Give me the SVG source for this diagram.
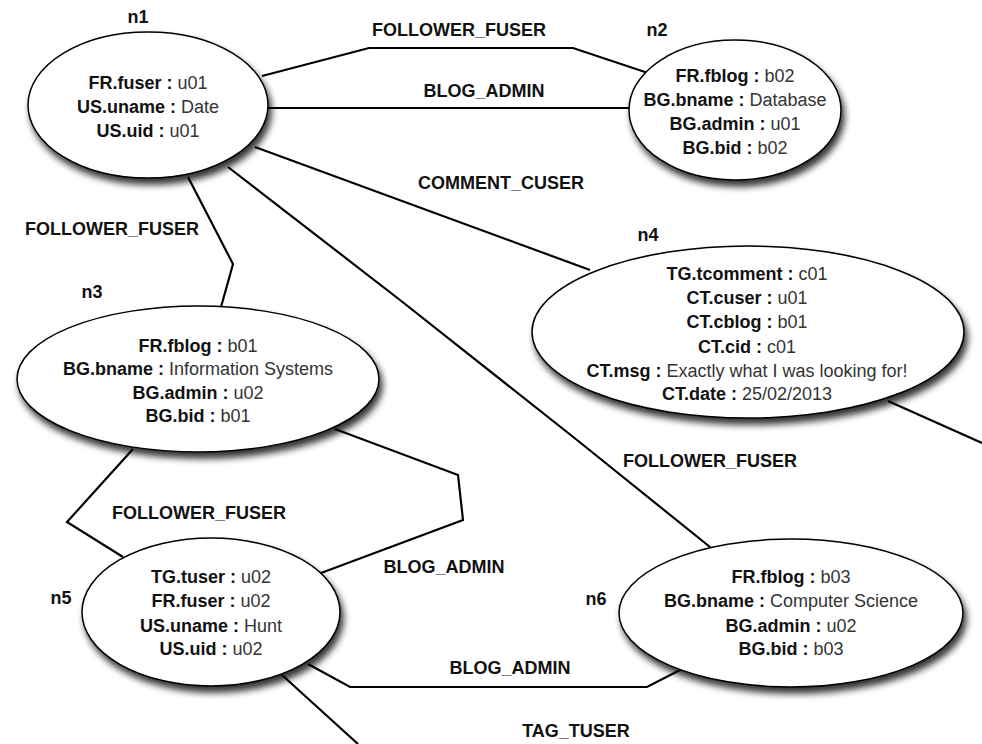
<svg xmlns="http://www.w3.org/2000/svg" width="982" height="744" viewBox="0 0 982 744">
<defs>
<filter id="sh" x="-20%" y="-20%" width="140%" height="150%">
<feGaussianBlur in="SourceAlpha" stdDeviation="3.5"/>
<feOffset dx="3" dy="6" result="b"/>
<feComponentTransfer><feFuncA type="linear" slope="0.8"/></feComponentTransfer>
<feMerge><feMergeNode/><feMergeNode in="SourceGraphic"/></feMerge>
</filter>
<style>
.n{fill:#fff;stroke:#000;stroke-width:1.5;filter:url(#sh)}
.e{fill:none;stroke:#000;stroke-width:2.2;stroke-linejoin:miter}
text{font-family:"Liberation Sans",Arial,sans-serif;font-size:18px;fill:#111}
.c{text-anchor:middle}
.b{font-weight:bold}
.v{font-weight:normal;fill:#333}
</style>
</defs>
<rect width="982" height="744" fill="#fff"/>
<g id="edges">
<polyline class="e" points="262,76 369,48 573,48 648,73"/>
<polyline class="e" points="266,108 634,108"/>
<polyline class="e" points="255,147 590,270"/>
<polyline class="e" points="188,177 233,264 221,307"/>
<polyline class="e" points="228,167 400,300 577,440 710,547"/>
<polyline class="e" points="888,401 982,443"/>
<polyline class="e" points="133,449 67,522 123,557"/>
<polyline class="e" points="335,429 458,475 463,520 321,573"/>
<polyline class="e" points="308,664 350,687 647,687 682,669"/>
<polyline class="e" points="282,675 358,744"/>
<g class="b">
<text class="c" x="459" y="36">FOLLOWER_FUSER</text>
<text class="c" x="484" y="97">BLOG_ADMIN</text>
<text class="c" x="501" y="189">COMMENT_CUSER</text>
<text class="c" x="112" y="235">FOLLOWER_FUSER</text>
<text class="c" x="710" y="467">FOLLOWER_FUSER</text>
<text class="c" x="199" y="519">FOLLOWER_FUSER</text>
<text class="c" x="444" y="573">BLOG_ADMIN</text>
<text class="c" x="510" y="674">BLOG_ADMIN</text>
<text class="c" x="576" y="737">TAG_TUSER</text>
</g>
</g>
<g id="n1">
<ellipse class="n" cx="148" cy="105" rx="120" ry="73"/>
<text class="c b" x="138" y="23">n1</text>
<text class="c b" x="148" y="89">FR.fuser : <tspan class="v">u01</tspan></text>
<text class="c b" x="148" y="113">US.uname : <tspan class="v">Date</tspan></text>
<text class="c b" x="148" y="137">US.uid : <tspan class="v">u01</tspan></text>
</g>
<g id="n2">
<ellipse class="n" cx="735" cy="110" rx="106" ry="70"/>
<text class="c b" x="657" y="36">n2</text>
<text class="c b" x="735" y="82">FR.fblog : <tspan class="v">b02</tspan></text>
<text class="c b" x="735" y="106">BG.bname : <tspan class="v">Database</tspan></text>
<text class="c b" x="735" y="130">BG.admin : <tspan class="v">u01</tspan></text>
<text class="c b" x="735" y="154">BG.bid : <tspan class="v">b02</tspan></text>
</g>
<g id="n3">
<ellipse class="n" cx="198" cy="379" rx="181" ry="73"/>
<text class="c b" x="92" y="298">n3</text>
<text class="c b" x="198" y="352">FR.fblog : <tspan class="v">b01</tspan></text>
<text class="c b" x="198" y="375">BG.bname : <tspan class="v">Information Systems</tspan></text>
<text class="c b" x="198" y="399">BG.admin : <tspan class="v">u02</tspan></text>
<text class="c b" x="198" y="422">BG.bid : <tspan class="v">b01</tspan></text>
</g>
<g id="n4">
<ellipse class="n" cx="748" cy="332" rx="216" ry="86"/>
<text class="c b" x="648" y="241">n4</text>
<text class="c b" x="747" y="280">TG.tcomment : <tspan class="v">c01</tspan></text>
<text class="c b" x="747" y="304">CT.cuser : <tspan class="v">u01</tspan></text>
<text class="c b" x="747" y="328">CT.cblog : <tspan class="v">b01</tspan></text>
<text class="c b" x="747" y="353">CT.cid : <tspan class="v">c01</tspan></text>
<text class="c b" x="747" y="377">CT.msg : <tspan class="v">Exactly what I was looking for!</tspan></text>
<text class="c b" x="747" y="400">CT.date : <tspan class="v">25/02/2013</tspan></text>
</g>
<g id="n5">
<ellipse class="n" cx="211" cy="612" rx="129" ry="74"/>
<text class="c b" x="61" y="604">n5</text>
<text class="c b" x="211" y="583">TG.tuser : <tspan class="v">u02</tspan></text>
<text class="c b" x="211" y="607">FR.fuser : <tspan class="v">u02</tspan></text>
<text class="c b" x="211" y="632">US.uname : <tspan class="v">Hunt</tspan></text>
<text class="c b" x="211" y="655">US.uid : <tspan class="v">u02</tspan></text>
</g>
<g id="n6">
<ellipse class="n" cx="791" cy="613" rx="172" ry="74"/>
<text class="c b" x="596" y="605">n6</text>
<text class="c b" x="791" y="583">FR.fblog : <tspan class="v">b03</tspan></text>
<text class="c b" x="791" y="607">BG.bname : <tspan class="v">Computer Science</tspan></text>
<text class="c b" x="791" y="632">BG.admin : <tspan class="v">u02</tspan></text>
<text class="c b" x="791" y="655">BG.bid : <tspan class="v">b03</tspan></text>
</g>
</svg>
